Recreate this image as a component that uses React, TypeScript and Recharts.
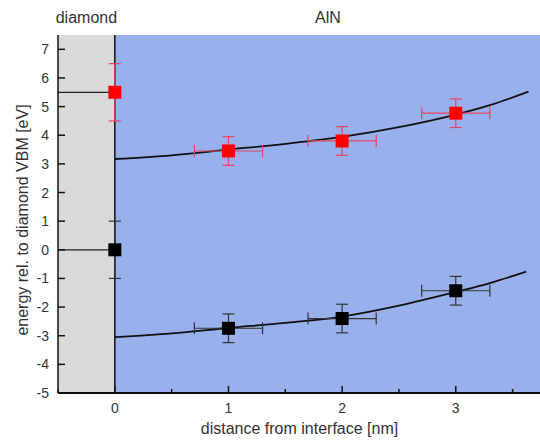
import React from "react";
import {
    ComposedChart,
    XAxis,
    YAxis,
    Line,
    Scatter,
    ErrorBar,
    ReferenceArea,
    ReferenceLine,
    Label,
} from "recharts";

// tick positions (major ones get a label)
const xTicks = [-0.5, 0, 0.5, 1, 1.5, 2, 2.5, 3, 3.5];
const yTicks = [-5, -4.5, -4, -3.5, -3, -2.5, -2, -1.5, -1, -0.5, 0, 0.5, 1, 1.5, 2, 2.5, 3, 3.5, 4, 4.5, 5, 5.5, 6, 6.5, 7];

// measured band positions: red = conduction band, black = valence band
const redPoints = [
    { x: 0, y: 5.5, ex: 0, ey: 1 },
    { x: 1, y: 3.45, ex: 0.3, ey: 0.5 },
    { x: 2, y: 3.8, ex: 0.3, ey: 0.5 },
    { x: 3, y: 4.77, ex: 0.3, ey: 0.5 },
];
const blackPoints = [
    { x: 0, y: 0, ex: 0, ey: 1 },
    { x: 1, y: -2.74, ex: 0.3, ey: 0.5 },
    { x: 2, y: -2.4, ex: 0.3, ey: 0.5 },
    { x: 3, y: -1.43, ex: 0.3, ey: 0.5 },
];

// fitted band bending curves
const upperFit = [
    { x: 0, y: 3.17 },
    { x: 0.5, y: 3.3 },
    { x: 1, y: 3.5 },
    { x: 1.5, y: 3.7 },
    { x: 2, y: 3.94 },
    { x: 2.5, y: 4.28 },
    { x: 3, y: 4.72 },
    { x: 3.3, y: 5.05 },
    { x: 3.64, y: 5.52 },
];
const lowerFit = [
    { x: 0, y: -3.05 },
    { x: 0.5, y: -2.92 },
    { x: 1, y: -2.73 },
    { x: 1.5, y: -2.55 },
    { x: 2, y: -2.33 },
    { x: 2.5, y: -1.95 },
    { x: 3, y: -1.47 },
    { x: 3.3, y: -1.16 },
    { x: 3.62, y: -0.76 },
];

// diamond side levels
const diamondCb = [{ x: -0.5, y: 5.5 }, { x: 0, y: 5.5 }];
const diamondVb = [{ x: -0.5, y: 0 }, { x: 0, y: 0 }];

const font = '"Liberation Sans", Arial, sans-serif';

function LeftTick(props: any) {
    const { x, y, payload } = props;
    const major = Number.isInteger(payload.value);
    return (
        <g>
            <line x1={x} x2={x + (major ? 7 : 4)} y1={y} y2={y} stroke="#111" strokeWidth={1.5} />
            {major && (
                <text x={x - 9} y={y + 5} textAnchor="end" fontSize={14} fill="#333" fontFamily={font}>
                    {payload.value}
                </text>
            )}
        </g>
    );
}

function RightTick(props: any) {
    const { x, y, payload } = props;
    const major = Number.isInteger(payload.value);
    return <line x1={x} x2={x - (major ? 7 : 4)} y1={y} y2={y} stroke="#111" strokeWidth={1.5} />;
}

function BottomTick(props: any) {
    const { x, y, payload } = props;
    const major = Number.isInteger(payload.value);
    return (
        <g>
            <line x1={x} x2={x} y1={y} y2={y - (major ? 7 : 4)} stroke="#111" strokeWidth={1.5} />
            {major && (
                <text x={x} y={y + 20} textAnchor="middle" fontSize={14} fill="#333" fontFamily={font}>
                    {payload.value}
                </text>
            )}
        </g>
    );
}

function TopTick(props: any) {
    const { x, y, payload } = props;
    const major = Number.isInteger(payload.value);
    return <line x1={x} x2={x} y1={y} y2={y + (major ? 7 : 4)} stroke="#111" strokeWidth={1.5} />;
}

const Square = (color: string) => (p: any) => (
    <rect x={p.cx - 6.5} y={p.cy - 6.5} width={13} height={13} fill={color} />
);

export default function App() {
    return (
        <div style={{ position: "absolute", left: 0, top: 0, width: 540, height: 445, overflow: "hidden", background: "#fff" }}>
            <ComposedChart width={545} height={445} margin={{ top: 35, right: 4, bottom: 0, left: 0 }}>
                <XAxis
                    dataKey="x"
                    type="number"
                    domain={[-0.5, 3.75]}
                    ticks={xTicks}
                    height={52}
                    tickSize={0}
                    tickMargin={0}
                    tick={<BottomTick />}
                    axisLine={{ stroke: "#111", strokeWidth: 2 }}
                    tickLine={false}
                    allowDataOverflow
                >
                    <Label
                        value="distance from interface [nm]"
                        position="insideBottom"
                        offset={11}
                        style={{ fontSize: 16, fill: "#333", fontFamily: font }}
                    />
                </XAxis>
                <XAxis
                    xAxisId="top"
                    orientation="top"
                    type="number"
                    domain={[-0.5, 3.75]}
                    ticks={xTicks}
                    height={0}
                    tickSize={0}
                    tickMargin={0}
                    tick={<TopTick />}
                    axisLine={{ stroke: "#111", strokeWidth: 1.5 }}
                    tickLine={false}
                    allowDataOverflow
                />
                <YAxis
                    dataKey="y"
                    type="number"
                    domain={[-5, 7.5]}
                    ticks={yTicks}
                    width={58}
                    tickSize={0}
                    tickMargin={0}
                    tick={<LeftTick />}
                    axisLine={{ stroke: "#111", strokeWidth: 1.5 }}
                    tickLine={false}
                    allowDataOverflow
                >
                    <Label
                        content={(p: any) => {
                            const vb = p.viewBox || { y: 35, height: 358 };
                            const cy = vb.y + vb.height / 2 + 6;
                            return (
                                <text
                                    x={22}
                                    y={cy}
                                    transform={`rotate(-90 22 ${cy})`}
                                    textAnchor="middle"
                                    dominantBaseline="central"
                                    fontSize={16}
                                    fill="#333"
                                    fontFamily={font}
                                >
                                    energy rel. to diamond VBM [eV]
                                </text>
                            );
                        }}
                    />
                </YAxis>
                <YAxis
                    yAxisId="right"
                    orientation="right"
                    type="number"
                    domain={[-5, 7.5]}
                    ticks={yTicks}
                    width={0}
                    tickSize={0}
                    tickMargin={0}
                    tick={<RightTick />}
                    axisLine={{ stroke: "#111", strokeWidth: 1.5 }}
                    tickLine={false}
                    allowDataOverflow
                />

                <ReferenceArea x1={-0.5} x2={0} y1={-5} y2={7.5} fill="#d9d9d9" fillOpacity={1} stroke="none" ifOverflow="visible">
                    <Label value="diamond" position="top" offset={12} style={{ fontSize: 16, fill: "#333", fontFamily: font }} />
                </ReferenceArea>
                <ReferenceArea x1={0} x2={3.75} y1={-5} y2={7.5} fill="#98b0ec" fillOpacity={1} stroke="none" ifOverflow="visible">
                    <Label value="AlN" position="top" offset={12} style={{ fontSize: 16, fill: "#333", fontFamily: font }} />
                </ReferenceArea>
                <ReferenceLine x={0} stroke="#111" strokeWidth={1.5} />

                <Line data={diamondCb} dataKey="y" type="linear" stroke="#222" strokeWidth={1.3} dot={false} isAnimationActive={false} />
                <Line data={diamondVb} dataKey="y" type="linear" stroke="#222" strokeWidth={1.3} dot={false} isAnimationActive={false} />
                <Line data={upperFit} dataKey="y" type="monotone" stroke="#111" strokeWidth={1.8} dot={false} isAnimationActive={false} />
                <Line data={lowerFit} dataKey="y" type="monotone" stroke="#111" strokeWidth={1.8} dot={false} isAnimationActive={false} />

                <Scatter data={redPoints} dataKey="y" shape={Square("#ff0000")} isAnimationActive={false}>
                    <ErrorBar dataKey="ey" direction="y" width={6} stroke="#e4475c" strokeWidth={1.2} isAnimationActive={false} />
                    <ErrorBar dataKey="ex" direction="x" width={6} stroke="#e4475c" strokeWidth={1.2} isAnimationActive={false} />
                </Scatter>
                <Scatter data={blackPoints} dataKey="y" shape={Square("#000")} isAnimationActive={false}>
                    <ErrorBar dataKey="ey" direction="y" width={6} stroke="#333" strokeWidth={1.2} isAnimationActive={false} />
                    <ErrorBar dataKey="ex" direction="x" width={6} stroke="#333" strokeWidth={1.2} isAnimationActive={false} />
                </Scatter>
            </ComposedChart>
        </div>
    );
}
